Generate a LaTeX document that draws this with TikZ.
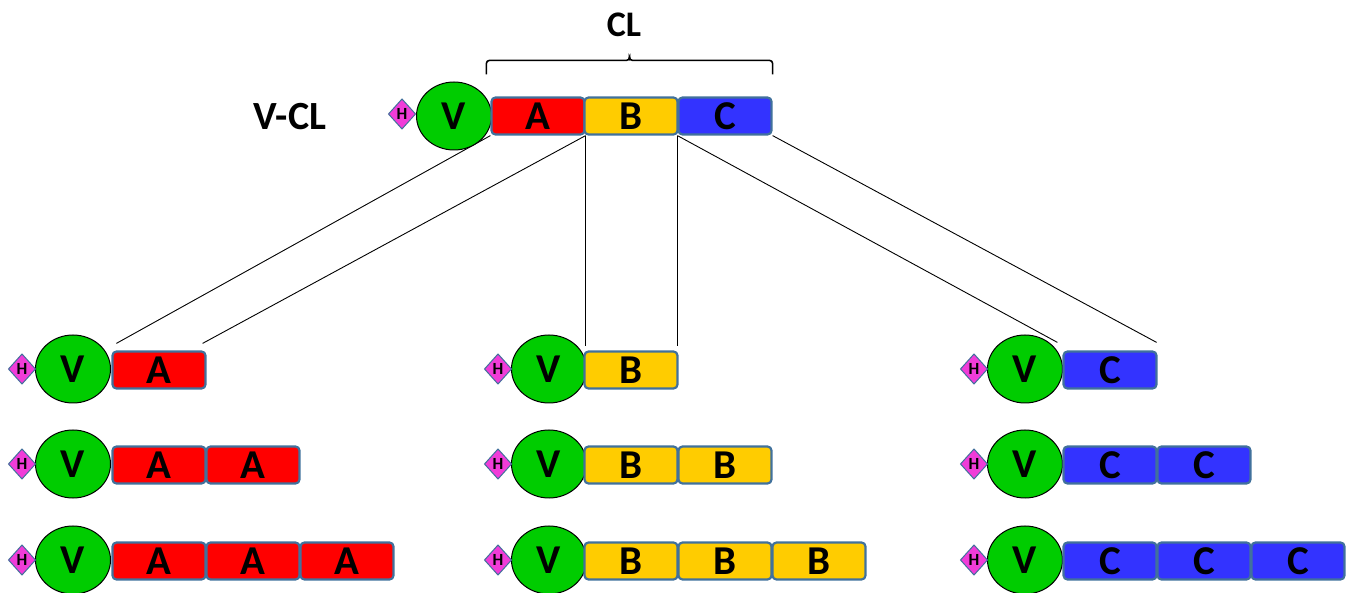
\documentclass[tikz,border=0pt]{standalone}
\usepackage{fontspec}
\setmainfont{Carlito}
\usetikzlibrary{shapes.geometric,calc,backgrounds}
\definecolor{vgreen}{HTML}{00CC00}
\definecolor{dred}{HTML}{FF0000}
\definecolor{dyellow}{HTML}{FFCC00}
\definecolor{dblue}{HTML}{3333FF}
\definecolor{edgeblue}{HTML}{41719C}
\definecolor{hmag}{HTML}{F03CD8}
\begin{document}
\begin{tikzpicture}[x=1pt,y=-1pt,
  dom/.style={rectangle, draw=edgeblue, line width=2.2pt, rounded corners=4pt,
    minimum width=93pt, minimum height=37pt, inner sep=0pt,
    font=\fontsize{41}{41}\selectfont\bfseries},
  domA/.style={dom, fill=dred},
  domB/.style={dom, fill=dyellow},
  domC/.style={dom, fill=dblue},
  vdom/.style={ellipse, draw=black, line width=1pt, fill=vgreen,
    minimum width=75pt, minimum height=68pt, inner sep=0pt,
    font=\fontsize{41}{41}\selectfont\bfseries},
  htag/.style={diamond, draw=edgeblue, line width=1pt, fill=hmag,
    minimum width=27pt, minimum height=30pt, inner sep=0pt, outer sep=0pt,
    font=\fontsize{17}{17}\selectfont\bfseries},
  link/.style={draw=black, line width=0.9pt},
  label/.style={font=\fontsize{40}{40}\selectfont\bfseries}
]
\useasboundingbox (0,0) rectangle (1353,593);

% full-length construct
\node[vdom] (tV) at (454,116) {V};
\node[htag] (tH) at (402,114) {H};
\node[domA] (tA) at (538,116) {A};
\node[domB] (tB) at (631,116) {B};
\node[domC] (tC) at (725,116) {C};
\node[label] (vcl) at (290,117) {V-CL};

% bracket over the CL domains
\coordinate (bl) at ($(tA.north west)+(-4,-22)$);
\coordinate (br) at ($(tC.north east)+(0,-22)$);
\coordinate (bm) at ($(bl)!0.5!(br)+(0,-14)$);
\draw[line width=1.6pt, rounded corners=3pt] (bl) -- ++(0,-14) -| (bm);
\draw[line width=1.6pt, rounded corners=3pt] (br) -- ++(0,-14) -| (bm);
\node[label, font=\fontsize{36}{36}\selectfont\bfseries] (cl) at (624,25) {CL};

% single, double and triple repeats of each domain
\foreach \col/\vx/\bx in {A/73/112, B/549/584, C/1025/1063}{
  \foreach \row/\vy in {1/369, 2/464, 3/560}{
    \node[vdom] (v\col\row) at (\vx,\vy) {V};
    \node[htag] (h\col\row) at (\vx-51,\vy) {H};
    \foreach \k in {1,...,\row}{
      \node[dom\col] (d\col\row\k) at (\bx+47+94*\k-94,\vy+1) {\col};
    }
  }
}

% connectors from the full-length construct to the single-domain forms
\begin{scope}[on background layer]
  \path[link] (tA.south west) -- ($(dA11.north west)+(5,-7)$);
  \path[link] (tA.south east) -- ($(dA11.north east)+(-4,-7)$);
  \path[link] (tA.south east) -- ($(tA.south east |- dB11.north)+(0,-4)$);
  \path[link] (tC.south west) -- ($(tC.south west |- dB11.north)+(0,-4)$);
  \path[link] (tC.south west) -- ($(dC11.north west)+(-5,-8)$);
  \path[link] (tC.south east) -- ($(dC11.north east)+(-1,-8)$);
\end{scope}
\end{tikzpicture}
\end{document}
